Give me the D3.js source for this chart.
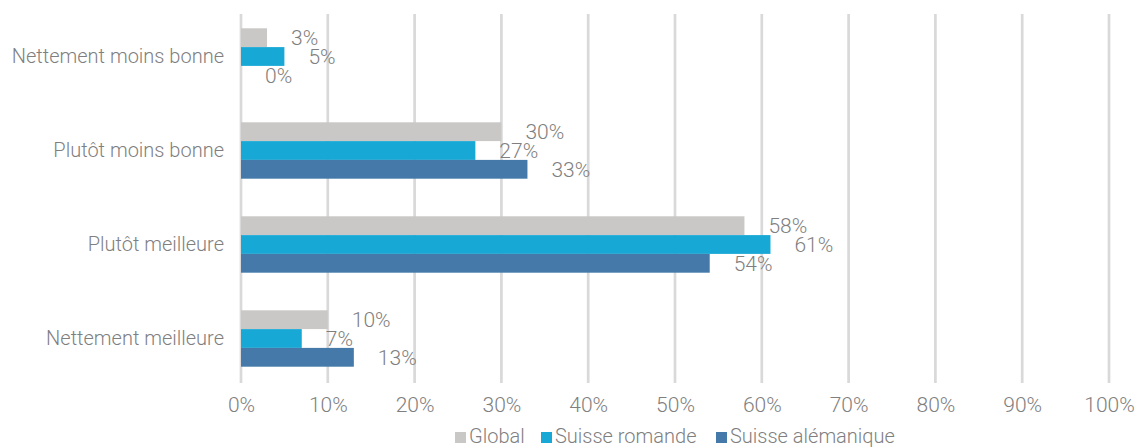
<!DOCTYPE html>
<html>
<head>
<meta charset="utf-8">
<script src="https://cdn.jsdelivr.net/npm/d3@7"></script>
<style>
  body { margin: 0; background: #fff; }
  svg text { font-family: "Helvetica Neue", Roboto, "Liberation Sans", sans-serif; font-weight: 300; fill: #7f7f7f; }
</style>
</head>
<body>
<div id="chart"></div>
<script>
// Chart data
var categories = ["Nettement moins bonne", "Plutôt moins bonne", "Plutôt meilleure", "Nettement meilleure"];
var seriesNames = ["Global", "Suisse romande", "Suisse alémanique"];
var globalValues = [0.03, 0.30, 0.58, 0.10];
var romandeValues = [0.05, 0.27, 0.61, 0.07];
var alemaniqueValues = [0.00, 0.33, 0.54, 0.13];
var tickValues = [0, 0.1, 0.2, 0.3, 0.4, 0.5, 0.6, 0.7, 0.8, 0.9, 1];

var colors = ["#c9c8c6", "#18a8d5", "#4479aa"];
var seriesValues = [globalValues, romandeValues, alemaniqueValues];

var svgWidth = 1138;
var svgHeight = 447;

var svg = d3.select("#chart")
  .append("svg")
  .attr("width", svgWidth)
  .attr("height", svgHeight);

// Scales
var xScale = d3.scaleLinear().domain([0, 1]).range([241, 1109]);
var yScale = d3.scaleBand()
  .domain(categories)
  .range([9.5, 385.5])
  .paddingInner(0.4)
  .paddingOuter(0.2);
var subScale = d3.scaleBand()
  .domain(seriesNames)
  .range([0, yScale.bandwidth()]);

// Gridlines
svg.append("g")
  .selectAll("line")
  .data(tickValues)
  .enter()
  .append("line")
  .attr("x1", function (d) { return xScale(d); })
  .attr("x2", function (d) { return xScale(d); })
  .attr("y1", 14)
  .attr("y2", 383)
  .attr("stroke", "#d9d9d9")
  .attr("stroke-width", 2.7);

// x axis labels
var xAxis = d3.axisBottom(xScale)
  .tickValues(tickValues)
  .tickFormat(d3.format(".0%"))
  .tickSize(0)
  .tickPadding(0);

var xAxisG = svg.append("g")
  .attr("transform", "translate(0,412)")
  .call(xAxis);
xAxisG.select(".domain").remove();
xAxisG.selectAll("text")
  .attr("font-size", "21px")
  .attr("y", 0)
  .attr("dy", 0)
  .style("font-family", null)
  .attr("fill", null);

// y axis labels
var yAxis = d3.axisLeft(yScale).tickSize(0).tickPadding(0);
var yAxisG = svg.append("g")
  .attr("transform", "translate(224,0)")
  .call(yAxis);
yAxisG.select(".domain").remove();
yAxisG.selectAll("text")
  .attr("font-size", "20px")
  .style("font-family", null)
  .attr("fill", null);

// Bars
var rows = [];
categories.forEach(function (c, i) {
  seriesNames.forEach(function (s, j) {
    rows.push({ category: c, series: s, value: seriesValues[j][i], color: colors[j] });
  });
});

svg.append("g")
  .selectAll("rect")
  .data(rows)
  .enter()
  .append("rect")
  .attr("x", xScale(0))
  .attr("y", function (d) { return yScale(d.category) + subScale(d.series); })
  .attr("width", function (d) { return xScale(d.value) - xScale(0); })
  .attr("height", subScale.bandwidth())
  .attr("fill", function (d) { return d.color; });

// Value labels
svg.append("g")
  .selectAll("text")
  .data(rows)
  .enter()
  .append("text")
  .attr("x", function (d) { return xScale(d.value) + 24; })
  .attr("y", function (d) { return yScale(d.category) + subScale(d.series) + subScale.bandwidth() / 2; })
  .attr("dy", "0.35em")
  .attr("font-size", "21px")
  .text(function (d) { return d3.format(".0%")(d.value); });

// Legend
var legendX = [455, 541, 716];
var legend = svg.append("g")
  .selectAll("g")
  .data(seriesNames)
  .enter()
  .append("g")
  .attr("transform", function (d, i) { return "translate(" + legendX[i] + ",432)"; });

legend.append("rect")
  .attr("width", 11)
  .attr("height", 11)
  .attr("fill", function (d, i) { return colors[i]; });

legend.append("text")
  .attr("x", 14)
  .attr("y", 11)
  .attr("font-size", "20px")
  .text(function (d) { return d; });
</script>
</body>
</html>
